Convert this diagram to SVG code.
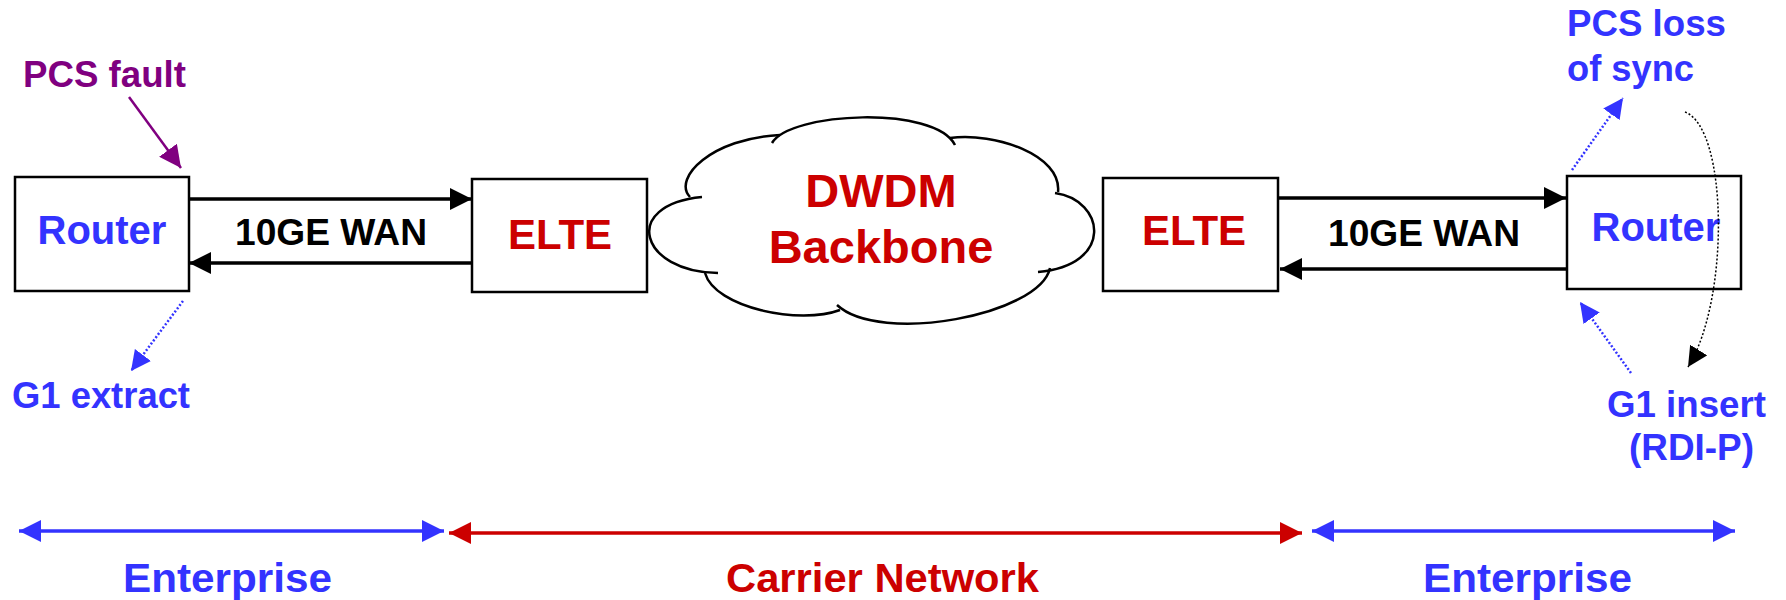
<svg xmlns="http://www.w3.org/2000/svg" width="1786" height="600" viewBox="0 0 1786 600">
<defs>
<style>
.box{fill:#fff;stroke:#000;stroke-width:2.5}
.t{font-family:"Liberation Sans",Arial,sans-serif;font-weight:bold}
.blue{fill:#3333FF}
.red{fill:#CC0000}
.blk{fill:#000}
.pur{fill:#800080}
.link{stroke:#000;stroke-width:3.5;fill:none}
.dotb{stroke:#3333FF;stroke-width:2.5;stroke-dasharray:2 2;fill:none}
.lobe{fill:none;stroke:#000;stroke-width:2.5}
</style>
<marker id="ahL" viewBox="0 0 22 22" markerWidth="22" markerHeight="22" markerUnits="userSpaceOnUse" refX="22" refY="11" orient="auto-start-reverse"><path d="M0,0 L22,11 L0,22 z" fill="#000"/></marker>
<marker id="ahP" viewBox="0 0 22 22" markerWidth="22" markerHeight="22" markerUnits="userSpaceOnUse" refX="22" refY="11" orient="auto"><path d="M0,0 L22,11 L0,22 z" fill="#800080"/></marker>
<marker id="ahB" viewBox="0 0 20 20" markerWidth="20" markerHeight="20" markerUnits="userSpaceOnUse" refX="20" refY="10" orient="auto"><path d="M0,0 L20,10 L0,20 z" fill="#3333FF"/></marker>
<marker id="ahK" viewBox="0 0 20 20" markerWidth="20" markerHeight="20" markerUnits="userSpaceOnUse" refX="20" refY="10" orient="auto"><path d="M0,0 L20,10 L0,20 z" fill="#000"/></marker>
<marker id="abB" viewBox="0 0 22 22" markerWidth="22" markerHeight="22" markerUnits="userSpaceOnUse" refX="22" refY="11" orient="auto-start-reverse"><path d="M0,0 L22,11 L0,22 z" fill="#3333FF"/></marker>
<marker id="abR" viewBox="0 0 22 22" markerWidth="22" markerHeight="22" markerUnits="userSpaceOnUse" refX="22" refY="11" orient="auto-start-reverse"><path d="M0,0 L22,11 L0,22 z" fill="#CC0000"/></marker>
</defs>
<rect width="1786" height="600" fill="#fff"/>

<g id="cloud">
<path d="M700,197 C678,180 710,138 776,139 C790,112 935,105 953,142 C995,132 1062,155 1057,192 C1105,200 1115,265 1039,271 C1040,315 880,345 838,307 C800,325 715,308 712,273 C640,272 620,205 700,197 Z" fill="#fff"/>
<path class="lobe" d="M690,197 C672,178 712,138 780,135"/>
<path class="lobe" d="M772,143 C790,112 935,105 955,145"/>
<path class="lobe" d="M950,138 C995,132 1062,155 1058,192"/>
<path class="lobe" d="M1055,193 C1105,200 1115,265 1038,272"/>
<path class="lobe" d="M1050,268 C1040,315 880,345 837,305"/>
<path class="lobe" d="M840,310 C800,325 715,308 705,273"/>
<path class="lobe" d="M718,273 C640,272 620,205 702,197"/>
<text class="t red" x="881" y="207" font-size="47" text-anchor="middle">DWDM</text>
<text class="t red" x="881" y="263" font-size="47" text-anchor="middle">Backbone</text>
</g>

<g id="router-left">
<rect class="box" x="15" y="177" width="174" height="114"/>
<text class="t blue" x="102" y="244" font-size="40" text-anchor="middle">Router</text>
</g>
<g id="elte-left">
<rect class="box" x="472" y="179" width="175" height="113"/>
<text class="t red" x="560" y="249" font-size="42" text-anchor="middle">ELTE</text>
</g>
<g id="elte-right">
<rect class="box" x="1103" y="178" width="175" height="113"/>
<text class="t red" x="1194" y="245" font-size="42" text-anchor="middle">ELTE</text>
</g>
<g id="router-right">
<rect class="box" x="1567" y="176" width="174" height="113"/>
<text class="t blue" x="1656" y="241" font-size="40" text-anchor="middle">Router</text>
</g>

<g id="connectors">
<line class="link" x1="189" y1="199" x2="472" y2="199" marker-end="url(#ahL)"/>
<line class="link" x1="472" y1="263" x2="189" y2="263" marker-end="url(#ahL)"/>
<line class="link" x1="1278" y1="198" x2="1566" y2="198" marker-end="url(#ahL)"/>
<line class="link" x1="1567" y1="269" x2="1280" y2="269" marker-end="url(#ahL)"/>
<line x1="129" y1="97" x2="181" y2="168" stroke="#800080" stroke-width="2.5" marker-end="url(#ahP)"/>
<line class="dotb" x1="183" y1="301" x2="131" y2="371" marker-end="url(#ahB)"/>
<line class="dotb" x1="1572" y1="170" x2="1623" y2="98" marker-end="url(#ahB)"/>
<line class="dotb" x1="1631" y1="373" x2="1580" y2="302" marker-end="url(#ahB)"/>
<path d="M1685,112 C1728,128 1730,300 1688,367" fill="none" stroke="#000" stroke-width="1.5" stroke-dasharray="2 2" marker-end="url(#ahK)"/>
<line x1="19" y1="531" x2="444" y2="531" stroke="#3333FF" stroke-width="3.5" marker-start="url(#abB)" marker-end="url(#abB)"/>
<line x1="449" y1="533" x2="1302" y2="533" stroke="#CC0000" stroke-width="3.5" marker-start="url(#abR)" marker-end="url(#abR)"/>
<line x1="1312" y1="531" x2="1735" y2="531" stroke="#3333FF" stroke-width="3.5" marker-start="url(#abB)" marker-end="url(#abB)"/>
</g>

<g id="labels">
<text class="t pur" x="23" y="87" font-size="36" textLength="163" lengthAdjust="spacingAndGlyphs">PCS fault</text>
<text class="t blue" x="12" y="408" font-size="36" textLength="178" lengthAdjust="spacingAndGlyphs">G1 extract</text>
<text class="t blk" x="235" y="245" font-size="36" textLength="192" lengthAdjust="spacingAndGlyphs">10GE WAN</text>
<text class="t blk" x="1328" y="246" font-size="36" textLength="192" lengthAdjust="spacingAndGlyphs">10GE WAN</text>
<text class="t blue" x="1567" y="36" font-size="36" textLength="159" lengthAdjust="spacingAndGlyphs">PCS loss</text>
<text class="t blue" x="1567" y="81" font-size="36" textLength="127" lengthAdjust="spacingAndGlyphs">of sync</text>
<text class="t blue" x="1607" y="417" font-size="36" textLength="159" lengthAdjust="spacingAndGlyphs">G1 insert</text>
<text class="t blue" x="1629" y="460" font-size="36" textLength="125" lengthAdjust="spacingAndGlyphs">(RDI-P)</text>
<text class="t blue" x="123" y="592" font-size="41" textLength="209" lengthAdjust="spacingAndGlyphs">Enterprise</text>
<text class="t red" x="726" y="592" font-size="41" textLength="313" lengthAdjust="spacingAndGlyphs">Carrier Network</text>
<text class="t blue" x="1423" y="592" font-size="41" textLength="209" lengthAdjust="spacingAndGlyphs">Enterprise</text>
</g>
</svg>
